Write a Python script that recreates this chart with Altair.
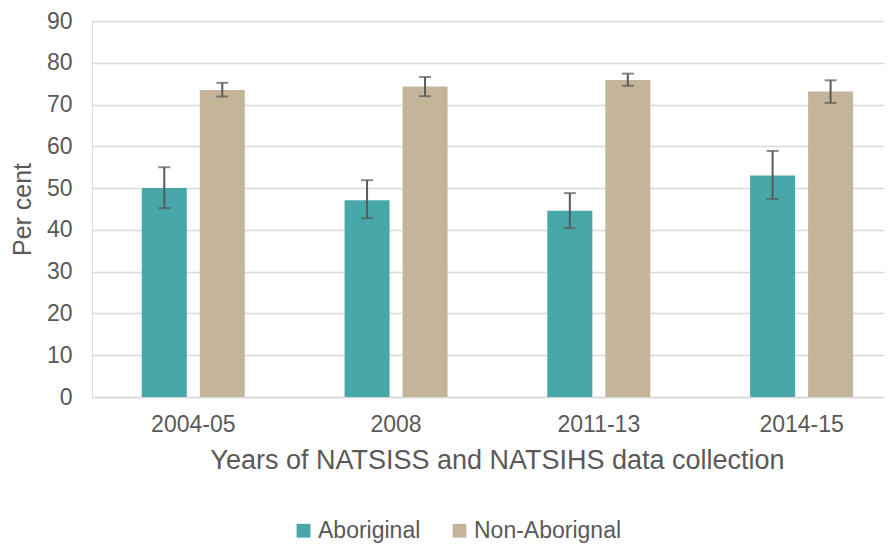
import altair as alt
import pandas as pd

years = ["2004-05", "2008", "2011-13", "2014-15"]
groups = ["Aboriginal", "Non-Aboriginal"]
aboriginal = [50.0, 47.1, 44.6, 53.0]
aboriginal_lo = [45.2, 42.8, 40.4, 47.4]
aboriginal_hi = [55.0, 51.9, 48.8, 58.9]
non_aboriginal = [73.5, 74.3, 75.9, 73.1]
non_lo = [71.9, 72.0, 74.5, 70.4]
non_hi = [75.2, 76.6, 77.4, 75.8]

rows = []
for i, y in enumerate(years):
    rows.append({"year": y, "group": "Aboriginal", "value": aboriginal[i],
                 "lo": aboriginal_lo[i], "hi": aboriginal_hi[i]})
    rows.append({"year": y, "group": "Non-Aboriginal", "value": non_aboriginal[i],
                 "lo": non_lo[i], "hi": non_hi[i]})
df = pd.DataFrame(rows)

FONT = "Liberation Sans"
GREY = "#595959"

x = alt.X("year:N", sort=years,
          scale=alt.Scale(paddingInner=0.492, paddingOuter=0.199, align=0.617),
          axis=alt.Axis(title="Years of NATSISS and NATSIHS data collection",
                        labelAngle=0, labelFontSize=23, labelColor=GREY,
                        titleFontSize=27, titleColor=GREY, titleFontWeight="normal",
                        labelPadding=16, titlePadding=11, titleX=405, ticks=False,
                        domainColor="#D9D9D9", domainWidth=1.5, labelFont=FONT, titleFont=FONT))
xoff = alt.XOffset("group:N", sort=groups, scale=alt.Scale(paddingInner=0.224, paddingOuter=0))

bars = alt.Chart(df).mark_bar().encode(
    x=x,
    xOffset=xoff,
    y=alt.Y("value:Q", scale=alt.Scale(domain=[0, 90]),
            axis=alt.Axis(title="Per cent", values=list(range(0, 91, 10)),
                          labelFontSize=23, labelColor=GREY, titleFontSize=25,
                          titleColor=GREY, titleFontWeight="normal", labelPadding=20,
                          titlePadding=11, ticks=False, domain=False,
                          gridColor="#D9D9D9", gridWidth=1.5, labelFont=FONT, titleFont=FONT)),
    color=alt.Color("group:N", sort=groups,
                    scale=alt.Scale(domain=groups, range=["#48A7A8", "#C4B59A"]),
                    legend=alt.Legend(title=None, orient="none", legendX=200, legendY=498,
                                      direction="horizontal",
                                      symbolType="square", symbolSize=190, symbolStrokeWidth=0,
                                      labelFontSize=23, labelColor=GREY, labelFont=FONT,
                                      labelOffset=3, columnPadding=27,
                                      labelExpr="datum.label == 'Non-Aboriginal' ? 'Non-Aborignal' : datum.label")),
)

rules = alt.Chart(df).mark_rule(color=GREY, strokeWidth=2).encode(
    x=x, xOffset=xoff, y="lo:Q", y2="hi:Q")
lo_ticks = alt.Chart(df).mark_tick(color=GREY, thickness=2, size=12).encode(
    x=x, xOffset=xoff, y="lo:Q")
hi_ticks = alt.Chart(df).mark_tick(color=GREY, thickness=2, size=12).encode(
    x=x, xOffset=xoff, y="hi:Q")

chart = alt.layer(bars, rules, lo_ticks, hi_ticks).properties(
    width=792, height=376,
    autosize=alt.AutoSizeParams(type="none"),
    padding={"left": 84, "top": 13, "right": 0, "bottom": 147},
).configure_view(stroke=None).configure(font=FONT)

chart.save("out.html", embed_options={"renderer": "svg", "actions": False})
